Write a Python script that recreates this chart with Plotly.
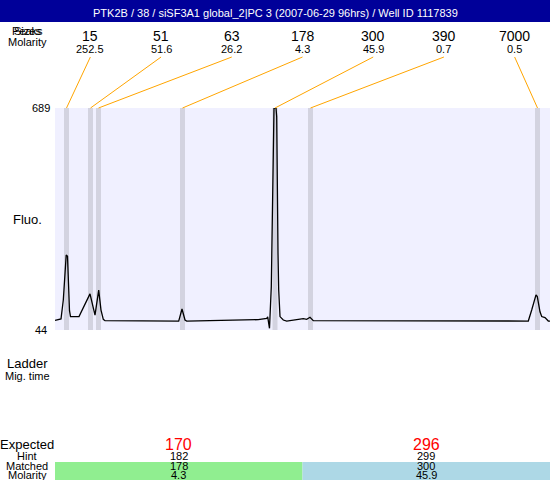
"""Electropherogram de contrôle qualité (ladder + pics attendus) en plotly."""

import plotly.graph_objects as go

# --- données --------------------------------------------------------------
TITLE = "PTK2B / 38 / siSF3A1 global_2|PC 3 (2007-06-29 96hrs) / Well ID 1117839"

# trace de fluorescence (temps de migration en s, fluorescence)
mig_time = [
    20.00, 20.60, 20.83, 20.95, 21.12, 21.25, 21.38, 21.45, 21.55, 22.40,
    23.50, 24.00, 24.37, 24.60, 24.83, 25.00, 32.37, 32.70, 33.00, 33.17,
    40.33, 41.17, 41.27, 41.45, 41.63, 41.77, 41.90, 42.10, 42.17, 42.30,
    42.37, 42.50, 42.83, 43.17, 44.50, 44.83, 45.17, 45.50, 45.83, 67.33,
    67.67, 68.10, 68.23, 68.50, 68.67, 69.00, 69.33, 69.50,
]
fluo = [
    72, 76, 131, 200, 262, 258, 150, 100, 83, 83,
    149, 87, 160, 102, 75, 71, 70, 105, 73, 70,
    74, 78, 82, 49, 170, 480, 689, 689, 664, 268,
    160, 83, 73, 70, 74, 77, 75, 81, 71, 70,
    102, 146, 141, 97, 83, 80, 70, 70,
]

# pics détectés (bandes grises) et leurs étiquettes
peak_time = [21.15, 23.55, 24.35, 32.75, 42.0, 45.55, 68.25]
peak_size = ["15", "51", "63", "178", "300", "390", "7000"]
peak_molarity = ["252.5", "51.6", "26.2", "4.3", "45.9", "0.7", "0.5"]

y_min, y_max = 44, 689
t_min, t_max = 20.0, 69.5

# tableau du bas
expected = ["170", "296"]
hint = ["182", "299"]
matched = ["178", "300"]
matched_molarity = ["4.3", "45.9"]
cell_colors = ["#90EE90", "#ADD8E6"]

# --- mise en page (pixels -> paper) ---------------------------------------
W, H = 550, 480
PLOT_L, PLOT_T, PLOT_B = 55, 108, 330
FONT = "Liberation Sans, Arial, sans-serif"


def py(pix):
    """ordonnée pixel (depuis le haut) -> coordonnée paper"""
    return 1 - pix / H


def px(pix):
    return pix / W


def label(text, x, y, size, color="black", yref="paper"):
    return dict(text=text, xref="paper", yref=yref, x=x, y=y, showarrow=False,
                xanchor="center", yanchor="middle", borderpad=0,
                font=dict(size=size, family=FONT, color=color))


fig = go.Figure()
fig.add_trace(go.Scatter(
    x=mig_time, y=fluo, mode="lines",
    line=dict(color="black", width=1.3), hoverinfo="skip",
))

shapes = []
annotations = []

# bandeau titre
shapes.append(dict(type="rect", xref="paper", yref="paper", x0=0, x1=1,
                   y0=py(22), y1=1, fillcolor="#000099", line_width=0, layer="below"))
annotations.append(label(TITLE, 0.5, py(13), 11, "white"))

# bandes des pics + étiquettes + traits orange
n = len(peak_time)
for i, (t, size, mol) in enumerate(zip(peak_time, peak_size, peak_molarity)):
    shapes.append(dict(type="rect", xref="x", yref="paper", x0=t - 0.25, x1=t + 0.25,
                       y0=py(PLOT_B), y1=py(PLOT_T), fillcolor="#D3D3E0",
                       line_width=0, layer="below"))
    label_px = PLOT_L + (W - PLOT_L) * (i + 0.5) / n
    label_t = t_min + (label_px - PLOT_L) / (W - PLOT_L) * (t_max - t_min)
    shapes.append(dict(type="line", xref="x", yref="paper", x0=label_t, y0=py(57),
                       x1=t, y1=py(PLOT_T), line=dict(color="#FFA500", width=1)))
    annotations.append(label(size, px(label_px), py(36), 14))
    annotations.append(label(mol, px(label_px), py(49), 11))

# libellés de gauche
left = [("Sizes", 31, 11), ("Peaks", 31, 11), ("Molarity", 42, 11), ("Fluo.", 220, 13),
        ("Ladder", 363, 13), ("Mig. time", 376, 11), ("Expected", 444, 13),
        ("Hint", 456, 11), ("Matched", 466, 11), ("Molarity", 475, 11)]
for txt, y, s in left:
    annotations.append(label(txt, px(27), py(y), s))

for v in (y_max, y_min):
    annotations.append(label(str(v), px(41), v, 11, yref="y"))

# tableau du bas
cell_w = (W - PLOT_L) / len(expected)
for i in range(len(expected)):
    x0 = PLOT_L + i * cell_w
    shapes.append(dict(type="rect", xref="paper", yref="paper", x0=px(x0), x1=px(x0 + cell_w),
                       y0=0, y1=py(462), fillcolor=cell_colors[i], line_width=0, layer="below"))
    xc = px(x0 + cell_w / 2)
    annotations.append(label(expected[i], xc, py(444), 16, "#FF0000"))
    for txt, y in ((hint[i], 456), (matched[i], 466), (matched_molarity[i], 475)):
        annotations.append(label(txt, xc, py(y), 11))

fig.update_layout(
    width=W, height=H,
    margin=dict(l=0, r=0, t=0, b=0),
    paper_bgcolor="white",
    plot_bgcolor="#F0F0FF",
    showlegend=False,
    xaxis=dict(domain=[px(PLOT_L), 1], range=[t_min, t_max], visible=False),
    yaxis=dict(domain=[py(PLOT_B), py(PLOT_T)], range=[y_min, y_max], visible=False),
    shapes=shapes,
    annotations=annotations,
)

# la page html a une marge de 8 px par défaut : on la retire
fig.write_html("out.html", config={"displayModeBar": False},
               post_script="document.body.style.margin='0';")
